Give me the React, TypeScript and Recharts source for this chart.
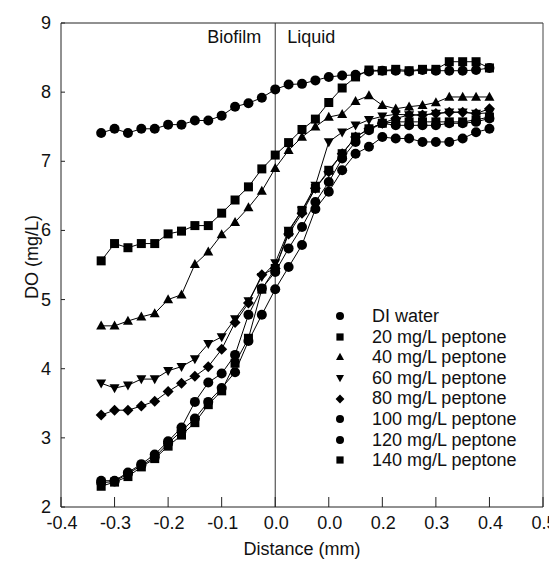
import React from "react";
import {
  LineChart,
  Line,
  XAxis,
  YAxis,
  ReferenceLine,
  Label,
  Legend,
} from "recharts";

const FONT = "'Liberation Sans', Arial, sans-serif";

const DISTANCE = [
  -0.325, -0.3, -0.275, -0.25, -0.225, -0.2, -0.175, -0.15, -0.125, -0.1,
  -0.075, -0.05, -0.025, 0, 0.025, 0.05, 0.075, 0.1, 0.125, 0.15, 0.175, 0.2,
  0.225, 0.25, 0.275, 0.3, 0.325, 0.35, 0.375, 0.4,
];

const X_TICKS = [-0.4, -0.3, -0.2, -0.1, 0, 0.1, 0.2, 0.3, 0.4, 0.5];
const X_TICK_LABELS = ["-0.4", "-0.3", "-0.2", "-0.1", "0.0", "0.0", "0.2", "0.3", "0.4", "0.5"];
const Y_TICKS = [2, 3, 4, 5, 6, 7, 8, 9];

const DI_WATER = [
  7.41, 7.47, 7.41, 7.47, 7.47, 7.53, 7.53, 7.59, 7.59, 7.66, 7.79, 7.84, 7.92, 8.04,
  8.11, 8.12, 8.17, 8.22, 8.24, 8.25, 8.3, 8.31, 8.31, 8.3, 8.32, 8.31, 8.31, 8.31, 8.32, 8.35,
];
const P20 = [
  5.56, 5.81, 5.75, 5.81, 5.81, 5.95, 5.99, 6.07, 6.07, 6.25, 6.44, 6.63, 6.89, 7.09,
  7.27, 7.46, 7.61, 7.85, 8.06, 8.22, 8.32, 8.31, 8.33, 8.31, 8.33, 8.33, 8.44, 8.44, 8.44, 8.35,
];
const P40 = [
  4.62, 4.62, 4.69, 4.75, 4.8, 5.0, 5.07, 5.51, 5.69, 5.94, 6.12, 6.33, 6.57, 6.9,
  7.16, 7.35, 7.5, 7.64, 7.68, 7.87, 7.95, 7.81, 7.76, 7.79, 7.81, 7.85, 7.93, 7.93, 7.93, 7.93,
];
const P60 = [
  3.79, 3.72, 3.76, 3.85, 3.85, 3.97, 4.03, 4.14, 4.36, 4.46, 4.72, 4.98, 5.33, 5.53,
  6.0, 6.29, 6.65, 7.28, 7.42, 7.52, 7.6, 7.65, 7.68, 7.67, 7.67, 7.69, 7.71, 7.71, 7.69, 7.7,
];
const P80 = [
  3.33, 3.4, 3.4, 3.46, 3.53, 3.67, 3.79, 3.89, 4.03, 4.28, 4.67, 4.95, 5.36, 5.45,
  5.95, 6.25, 6.61, 6.85, 7.11, 7.35, 7.47, 7.55, 7.62, 7.67, 7.67, 7.69, 7.71, 7.71, 7.69, 7.76,
];
const P100 = [
  2.38, 2.38, 2.5, 2.62, 2.76, 2.95, 3.15, 3.52, 3.8, 3.93, 4.2, 4.78, 5.16, 5.4,
  5.74, 6.05, 6.41, 6.7, 7.04, 7.28, 7.45, 7.55, 7.52, 7.52, 7.52, 7.52, 7.55, 7.55, 7.57, 7.62,
];
const P120 = [
  2.35, 2.37, 2.48, 2.6, 2.72, 2.92, 3.1, 3.28, 3.52, 3.72, 3.95, 4.4, 4.78, 5.15,
  5.47, 5.79, 6.31, 6.56, 6.87, 7.11, 7.21, 7.35, 7.33, 7.33, 7.28, 7.28, 7.28, 7.33, 7.42, 7.47,
];
const P140 = [
  2.3, 2.36, 2.44, 2.58, 2.7, 2.88, 3.04, 3.22, 3.48, 3.68, 4.08, 4.44, 5.15, 5.45,
  5.98, 6.29, 6.61, 6.87, 7.11, 7.35, 7.47, 7.55, 7.57, 7.57, 7.57, 7.57, 7.57, 7.57, 7.6, 7.64,
];

const SERIES = [
  { key: "di", name: "DI water", shape: "circle", values: DI_WATER },
  { key: "p20", name: "20 mg/L peptone", shape: "square", values: P20 },
  { key: "p40", name: "40 mg/L peptone", shape: "triangle", values: P40 },
  { key: "p60", name: "60 mg/L peptone", shape: "triangleDown", values: P60 },
  { key: "p80", name: "80 mg/L peptone", shape: "diamond", values: P80 },
  { key: "p100", name: "100 mg/L peptone", shape: "circle", values: P100 },
  { key: "p120", name: "120 mg/L peptone", shape: "circle", values: P120 },
  { key: "p140", name: "140 mg/L peptone", shape: "square", values: P140 },
];

const data = DISTANCE.map((x, i) => {
  const row: Record<string, number> = { x };
  SERIES.forEach((s) => (row[s.key] = s.values[i]));
  return row;
});

const Marker = ({ cx, cy, shape, size }: any) => {
  if (cx == null || cy == null) return null;
  const r = size / 2;
  switch (shape) {
    case "square":
      return <rect x={cx - r * 0.9} y={cy - r * 0.9} width={r * 1.8} height={r * 1.8} fill="#000" />;
    case "triangle":
      return <polygon points={`${cx},${cy - r * 1.05} ${cx + r},${cy + r * 0.75} ${cx - r},${cy + r * 0.75}`} fill="#000" />;
    case "triangleDown":
      return <polygon points={`${cx},${cy + r * 1.05} ${cx + r},${cy - r * 0.75} ${cx - r},${cy - r * 0.75}`} fill="#000" />;
    case "diamond":
      return <polygon points={`${cx},${cy - r * 1.1} ${cx + r * 1.1},${cy} ${cx},${cy + r * 1.1} ${cx - r * 1.1},${cy}`} fill="#000" />;
    default:
      return <circle cx={cx} cy={cy} r={r} fill="#000" />;
  }
};

const XTick = ({ x, y, payload }: any) => {
  const i = X_TICKS.indexOf(payload.value);
  return (
    <g>
      <line x1={x} x2={x} y1={y} y2={y - 10} stroke="#222" />
      <text x={x + 1} y={y + 22} textAnchor="middle" fontSize={18} fontFamily={FONT} fill="#111">
        {X_TICK_LABELS[i]}
      </text>
    </g>
  );
};

const YTick = ({ x, y, payload }: any) => (
  <g>
    <line x1={x} x2={x + 4} y1={y} y2={y} stroke="#222" />
    <text x={x - 10} y={y + 6} textAnchor="end" fontSize={18} fontFamily={FONT} fill="#111">
      {payload.value}
    </text>
  </g>
);

const YTitle = ({ viewBox }: any) => {
  const cx = viewBox.x + 24;
  const cy = viewBox.y + viewBox.height / 2 - 8;
  return (
    <text
      x={cx}
      y={cy}
      transform={`rotate(-90 ${cx} ${cy})`}
      textAnchor="middle"
      dominantBaseline="central"
      fontSize={18}
      fontFamily={FONT}
      fill="#111"
    >
      DO (mg/L)
    </text>
  );
};

const ZoneLabels = ({ viewBox }: any) => (
  <g fontSize={18} fontFamily={FONT} fill="#111">
    <text x={viewBox.x - 14} y={viewBox.y + 20} textAnchor="end">
      Biofilm
    </text>
    <text x={viewBox.x + 12} y={viewBox.y + 20} textAnchor="start">
      Liquid
    </text>
  </g>
);

const LegendBox = () => (
  <div style={{ fontFamily: FONT, fontSize: 18, color: "#111" }}>
    {SERIES.map((s) => (
      <div key={s.key} style={{ display: "flex", alignItems: "center", height: 20.6 }}>
        <svg width={12} height={12} style={{ flex: "none" }}>
          <Marker cx={6} cy={6} shape={s.shape} size={8} />
        </svg>
        <span style={{ marginLeft: 26, lineHeight: "20.6px", whiteSpace: "nowrap" }}>{s.name}</span>
      </div>
    ))}
  </div>
);

export default function App() {
  return (
    <div style={{ width: 557, height: 559 }}>
      <LineChart
        width={557}
        height={559}
        data={data}
        margin={{ top: 15, right: 22, bottom: 0, left: 0 }}
      >
        <XAxis
          dataKey="x"
          type="number"
          domain={[-0.4, 0.5]}
          ticks={X_TICKS}
          height={60}
          tickLine={false}
          tickSize={0}
          tickMargin={0}
          tick={<XTick />}
          axisLine={{ stroke: "#222" }}
          interval={0}
        >
          <Label
            value="Distance (mm)"
            position="insideBottom"
            offset={12}
            fontSize={18}
            fontFamily={FONT}
            fill="#111"
          />
        </XAxis>
        <YAxis
          type="number"
          domain={[2, 9]}
          ticks={Y_TICKS}
          width={53}
          tickLine={false}
          tickSize={0}
          tickMargin={0}
          tick={<YTick />}
          axisLine={{ stroke: "#222" }}
          interval={0}
        >
          <Label content={<YTitle />} />
        </YAxis>
        <ReferenceLine y={9} stroke="#222" />
        <ReferenceLine x={0.5} stroke="#444" />
        <ReferenceLine x={0} stroke="#333" label={<ZoneLabels />} />
        <Legend
          layout="vertical"
          align="center"
          verticalAlign="middle"
          wrapperStyle={{ left: 326, top: 298, width: "auto" }}
          content={<LegendBox />}
        />
        {SERIES.map((s) => (
          <Line
            key={s.key}
            dataKey={s.key}
            name={s.name}
            stroke="#000"
            strokeWidth={1}
            isAnimationActive={false}
            activeDot={false}
            dot={(p: any) => (
              <Marker key={`${s.key}-${p.index}`} cx={p.cx} cy={p.cy} shape={s.shape} size={10} />
            )}
          />
        ))}
      </LineChart>
    </div>
  );
}
